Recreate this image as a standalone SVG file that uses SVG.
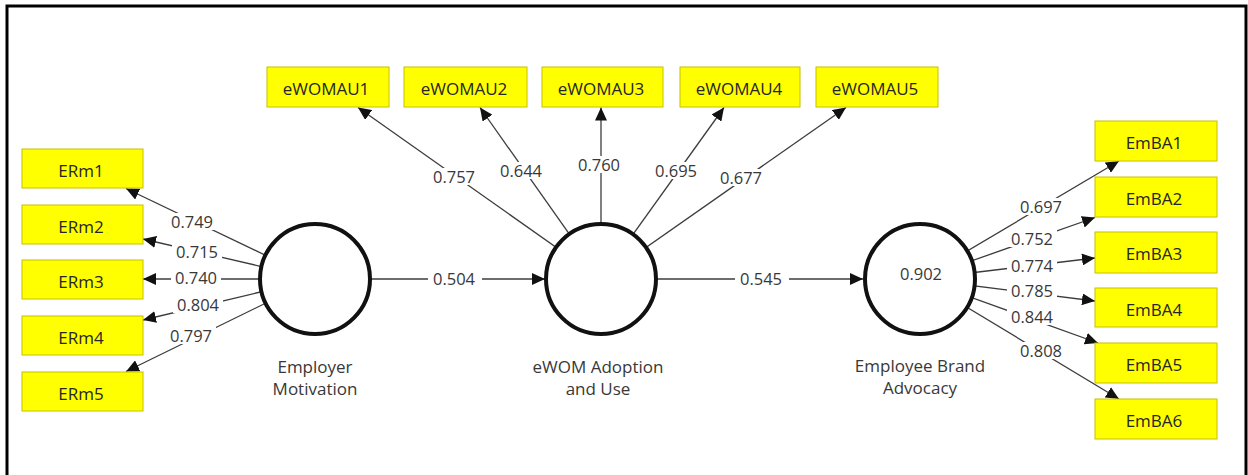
<svg xmlns="http://www.w3.org/2000/svg" width="1248" height="475" viewBox="0 0 1248 475">
  <defs>
    <marker id="arrow" markerUnits="userSpaceOnUse" markerWidth="13" markerHeight="12" refX="13" refY="6" orient="auto">
      <path d="M0,0 L13,6 L0,12 z" fill="#111"/>
    </marker>
    <style>
      .frame { fill: #fff; stroke: #000; stroke-width: 3; }
      .edge { stroke: #3c3c3c; stroke-width: 1.3; fill: none; marker-end: url(#arrow); }
      .lbl-bg { fill: #fff; }
      .lbl { font-family: "Open Sans", "Noto Sans", sans-serif; font-size: 16.5px; fill: #383838; text-anchor: middle; }
      .latent { fill: #fff; stroke: #111; stroke-width: 4; }
      .ind { fill: #ffff00; stroke: #c8c000; stroke-width: 1; }
      .ind-t { font-family: "Open Sans", "Noto Sans", sans-serif; font-size: 17px; fill: #262626; text-anchor: middle; }
      .name { font-family: "Open Sans", "Noto Sans", sans-serif; font-size: 17px; fill: #383838; text-anchor: middle; }
    </style>
  </defs>

  <rect class="frame" x="7" y="6" width="1239" height="500"/>

  <!-- paths and loadings -->
  <g id="connectors">
    <!-- Employer Motivation -> ERm indicators -->
    <line class="edge" x1="315" y1="279" x2="126" y2="188.5"/>
    <line class="edge" x1="315" y1="279" x2="143" y2="239"/>
    <line class="edge" x1="315" y1="279" x2="143" y2="279"/>
    <line class="edge" x1="315" y1="279" x2="143" y2="320"/>
    <line class="edge" x1="315" y1="279" x2="126" y2="371.5"/>
    <!-- eWOM Adoption and Use -> eWOMAU indicators -->
    <line class="edge" x1="601" y1="279" x2="358" y2="107.5"/>
    <line class="edge" x1="601" y1="279" x2="480" y2="107.5"/>
    <line class="edge" x1="601" y1="279" x2="601" y2="107.5"/>
    <line class="edge" x1="601" y1="279" x2="724" y2="107.5"/>
    <line class="edge" x1="601" y1="279" x2="846" y2="107.5"/>
    <!-- Employee Brand Advocacy -> EmBA indicators -->
    <line class="edge" x1="920" y1="279" x2="1119" y2="161"/>
    <line class="edge" x1="920" y1="279" x2="1095" y2="217.5"/>
    <line class="edge" x1="920" y1="279" x2="1095" y2="258"/>
    <line class="edge" x1="920" y1="279" x2="1095" y2="301"/>
    <line class="edge" x1="920" y1="279" x2="1098" y2="343"/>
    <line class="edge" x1="920" y1="279" x2="1119" y2="399"/>
    <!-- structural paths -->
    <line class="edge" x1="315" y1="279" x2="545" y2="279"/>
    <line class="edge" x1="601" y1="279" x2="863" y2="279"/>

    <!-- coefficient labels -->
    <g id="labels">
      <rect class="lbl-bg" x="167" y="213" width="50" height="17"/><text class="lbl" x="192" y="228">0.749</text>
      <rect class="lbl-bg" x="172" y="243" width="50" height="17"/><text class="lbl" x="197" y="258">0.715</text>
      <rect class="lbl-bg" x="171" y="270" width="50" height="17"/><text class="lbl" x="196" y="284">0.740</text>
      <rect class="lbl-bg" x="173" y="296" width="50" height="17"/><text class="lbl" x="198" y="311">0.804</text>
      <rect class="lbl-bg" x="166" y="327" width="50" height="17"/><text class="lbl" x="191" y="342">0.797</text>

      <rect class="lbl-bg" x="429" y="168" width="50" height="17"/><text class="lbl" x="454" y="183">0.757</text>
      <rect class="lbl-bg" x="496" y="162" width="50" height="17"/><text class="lbl" x="521" y="177">0.644</text>
      <rect class="lbl-bg" x="574" y="156" width="50" height="17"/><text class="lbl" x="599" y="171">0.760</text>
      <rect class="lbl-bg" x="651" y="162" width="50" height="17"/><text class="lbl" x="676" y="177">0.695</text>
      <rect class="lbl-bg" x="716" y="169" width="50" height="17"/><text class="lbl" x="741" y="184">0.677</text>

      <rect class="lbl-bg" x="1016" y="198" width="50" height="17"/><text class="lbl" x="1041" y="213">0.697</text>
      <rect class="lbl-bg" x="1007" y="230" width="50" height="17"/><text class="lbl" x="1032" y="245">0.752</text>
      <rect class="lbl-bg" x="1007" y="257" width="50" height="17"/><text class="lbl" x="1032" y="272">0.774</text>
      <rect class="lbl-bg" x="1007" y="282" width="50" height="17"/><text class="lbl" x="1032" y="297">0.785</text>
      <rect class="lbl-bg" x="1007" y="308" width="50" height="17"/><text class="lbl" x="1032" y="323">0.844</text>
      <rect class="lbl-bg" x="1016" y="342" width="50" height="17"/><text class="lbl" x="1041" y="357">0.808</text>

      <rect class="lbl-bg" x="428" y="270" width="54" height="17"/><text class="lbl" x="454" y="285">0.504</text>
      <rect class="lbl-bg" x="735" y="270" width="54" height="17"/><text class="lbl" x="761" y="285">0.545</text>
    </g>
  </g>

  <!-- latent variables -->
  <g id="employer-motivation">
    <circle class="latent" cx="315" cy="279" r="55"/>
    <text class="name" x="315" y="373">Employer</text>
    <text class="name" x="315" y="395">Motivation</text>
  </g>
  <g id="ewom-adoption-use">
    <circle class="latent" cx="601" cy="279" r="55"/>
    <text class="name" x="598" y="373">eWOM Adoption</text>
    <text class="name" x="598" y="395">and Use</text>
  </g>
  <g id="employee-brand-advocacy">
    <circle class="latent" cx="920" cy="279" r="55"/>
    <text class="lbl" x="921" y="280">0.902</text>
    <text class="name" x="920" y="372">Employee Brand</text>
    <text class="name" x="920" y="394">Advocacy</text>
  </g>

  <!-- indicators -->
  <g id="ERm1"><rect class="ind" x="22" y="149" width="121" height="39"/><text class="ind-t" x="81" y="177">ERm1</text></g>
  <g id="ERm2"><rect class="ind" x="22" y="205" width="121" height="39"/><text class="ind-t" x="81" y="233">ERm2</text></g>
  <g id="ERm3"><rect class="ind" x="22" y="260" width="121" height="39"/><text class="ind-t" x="81" y="288">ERm3</text></g>
  <g id="ERm4"><rect class="ind" x="22" y="316" width="121" height="39"/><text class="ind-t" x="81" y="344">ERm4</text></g>
  <g id="ERm5"><rect class="ind" x="22" y="372" width="121" height="39"/><text class="ind-t" x="81" y="400">ERm5</text></g>

  <g id="eWOMAU1"><rect class="ind" x="267" y="67" width="122" height="40"/><text class="ind-t" x="326" y="95">eWOMAU1</text></g>
  <g id="eWOMAU2"><rect class="ind" x="404" y="67" width="123" height="40"/><text class="ind-t" x="464" y="95">eWOMAU2</text></g>
  <g id="eWOMAU3"><rect class="ind" x="542" y="67" width="121" height="40"/><text class="ind-t" x="601" y="95">eWOMAU3</text></g>
  <g id="eWOMAU4"><rect class="ind" x="680" y="67" width="120" height="40"/><text class="ind-t" x="739" y="95">eWOMAU4</text></g>
  <g id="eWOMAU5"><rect class="ind" x="816" y="67" width="122" height="40"/><text class="ind-t" x="875" y="95">eWOMAU5</text></g>

  <g id="EmBA1"><rect class="ind" x="1095" y="121" width="122" height="40"/><text class="ind-t" x="1154" y="149">EmBA1</text></g>
  <g id="EmBA2"><rect class="ind" x="1095" y="177" width="122" height="40"/><text class="ind-t" x="1154" y="205">EmBA2</text></g>
  <g id="EmBA3"><rect class="ind" x="1095" y="232" width="122" height="41"/><text class="ind-t" x="1154" y="260">EmBA3</text></g>
  <g id="EmBA4"><rect class="ind" x="1095" y="288" width="122" height="39"/><text class="ind-t" x="1154" y="316">EmBA4</text></g>
  <g id="EmBA5"><rect class="ind" x="1095" y="343" width="122" height="40"/><text class="ind-t" x="1154" y="371">EmBA5</text></g>
  <g id="EmBA6"><rect class="ind" x="1095" y="399" width="122" height="40"/><text class="ind-t" x="1154" y="427">EmBA6</text></g>
</svg>
